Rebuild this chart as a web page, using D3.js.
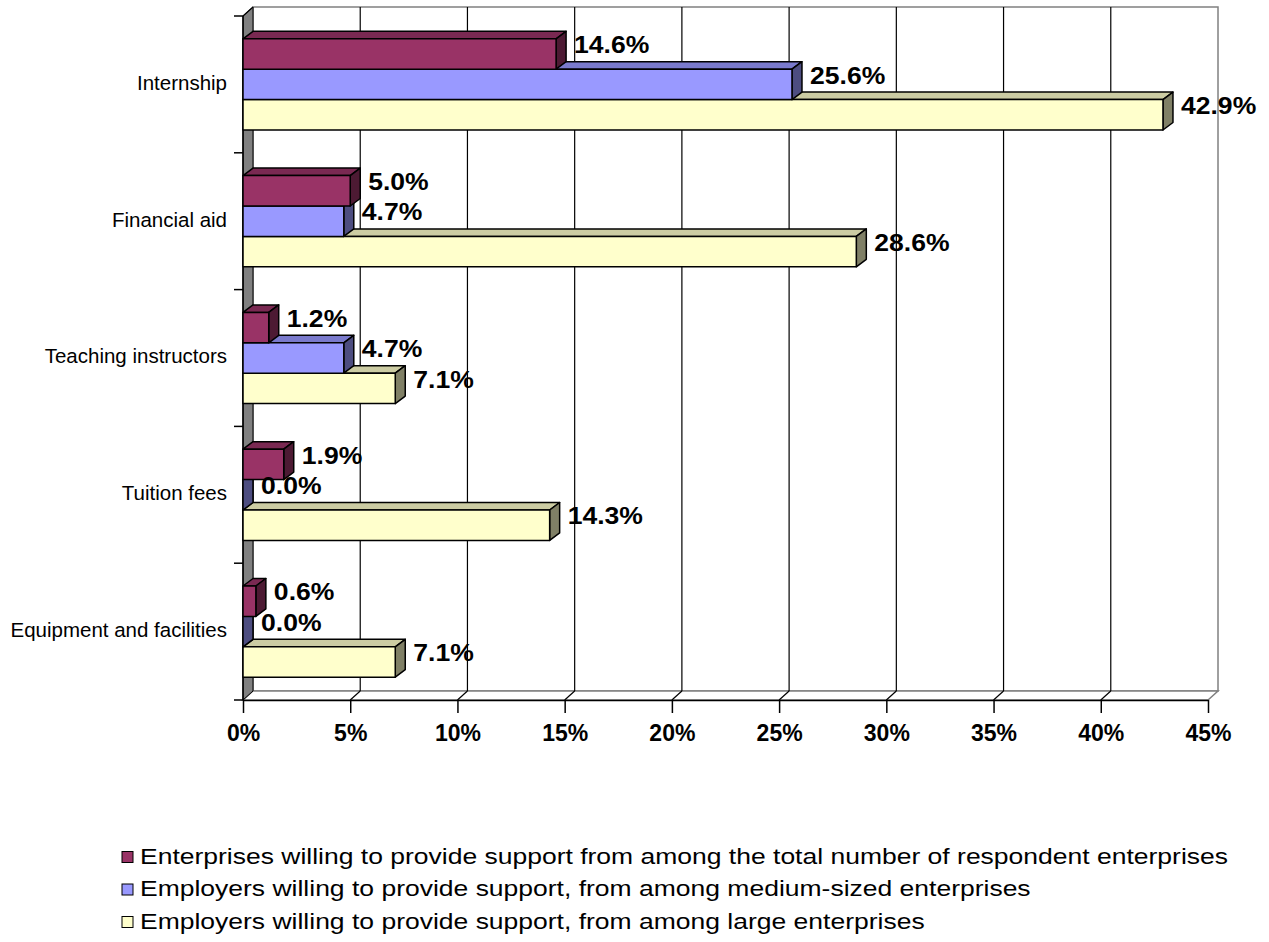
<!DOCTYPE html>
<html>
<head>
<meta charset="utf-8">
<script src="https://cdn.jsdelivr.net/npm/d3@7"></script>
<style>
  html, body { margin: 0; padding: 0; background: #fff; }
  svg { display: block; font-family: Arial, "Liberation Sans", sans-serif; }
</style>
</head>
<body>
<svg id="chart" width="1269" height="942"></svg>
<script>
// Forms of support offered by enterprises, share of respondents (%)
const categories = ["Internship", "Financial aid", "Teaching instructors", "Tuition fees", "Equipment and facilities"];
const seriesNames = [
  "Enterprises willing to provide support from among the total number of respondent enterprises",
  "Employers willing to provide support, from among medium-sized enterprises",
  "Employers willing to provide support, from among large enterprises"
];
const totalEnterprises = [14.6, 5.0, 1.2, 1.9, 0.6];
const mediumEnterprises = [25.6, 4.7, 4.7, 0.0, 0.0];
const largeEnterprises = [42.9, 28.6, 7.1, 14.3, 7.1];
const xTicks = [0, 5, 10, 15, 20, 25, 30, 35, 40, 45];

const seriesValues = [totalEnterprises, mediumEnterprises, largeEnterprises];
const fills = [
  { front: "#993366", top: "#7a2952", side: "#4d1a33" },
  { front: "#9999ff", top: "#7a7acc", side: "#4d4d80" },
  { front: "#ffffcc", top: "#cccca3", side: "#808066" }
];

const svg = d3.select("#chart");

// plot geometry (front plane) and 3D depth offsets
const x0 = 243, x1 = 1208, yTop = 16, yBot = 700;
const wallDx = 10, wallDy = -9;
const barDx = 10, barDy = -7.5;

const x = d3.scaleLinear().domain([0, 45]).range([x0, x1]);
const yCat = d3.scaleBand().domain(categories).range([yTop, yBot]).padding(0);
const bw = yCat.bandwidth();
const ySer = d3.scaleBand().domain(d3.range(3)).range([bw / 6, bw * 5 / 6]).padding(0);

const poly = pts => pts.map(p => p.join(",")).join(" ");

// back wall
svg.append("rect")
  .attr("x", x0 + wallDx).attr("y", yTop + wallDy)
  .attr("width", x1 - x0).attr("height", yBot - yTop)
  .attr("fill", "#ffffff").attr("stroke", "#808080").attr("stroke-width", 1.5);

// floor
svg.append("polygon")
  .attr("points", poly([[x0, yBot], [x0 + wallDx, yBot + wallDy], [x1 + wallDx, yBot + wallDy], [x1, yBot]]))
  .attr("fill", "#ffffff").attr("stroke", "#808080").attr("stroke-width", 1.5);

// left side wall
svg.append("polygon")
  .attr("points", poly([[x0, yTop], [x0 + wallDx, yTop + wallDy], [x0 + wallDx, yBot + wallDy], [x0, yBot]]))
  .attr("fill", "#808080").attr("stroke", "#000").attr("stroke-width", 1);

// vertical gridlines on the back wall plus floor connectors
const gridTicks = xTicks.filter(t => t > 0 && t < 45);
svg.append("g").selectAll("line").data(gridTicks).join("line")
  .attr("x1", d => x(d) + wallDx).attr("x2", d => x(d) + wallDx)
  .attr("y1", yTop + wallDy).attr("y2", yBot + wallDy)
  .attr("stroke", "#000").attr("stroke-width", 1.2);
svg.append("g").selectAll("line").data(gridTicks).join("line")
  .attr("x1", d => x(d)).attr("x2", d => x(d) + wallDx)
  .attr("y1", yBot).attr("y2", yBot + wallDy)
  .attr("stroke", "#000").attr("stroke-width", 1.2);

// x axis
const xAxis = d3.axisBottom(x).tickValues(xTicks).tickFormat(d => d + "%").tickSize(13).tickSizeOuter(0).tickPadding(12);
const gx = svg.append("g").attr("transform", `translate(0,${yBot})`).call(xAxis);
gx.select(".domain").attr("stroke", "#000").attr("stroke-width", 1.5);
gx.selectAll(".tick line").attr("stroke", "#000").attr("stroke-width", 1.5);
gx.selectAll(".tick text").attr("fill", "#000").attr("font-size", 23).attr("font-weight", "bold")
  .attr("font-family", "Arial, 'Liberation Sans', sans-serif");

// y axis: line with ticks at category boundaries
const boundaries = categories.map(c => yCat(c)).concat([yBot]);
svg.append("line").attr("x1", x0).attr("x2", x0).attr("y1", yTop).attr("y2", yBot)
  .attr("stroke", "#000").attr("stroke-width", 1.5);
svg.append("g").selectAll("line").data(boundaries).join("line")
  .attr("x1", x0 - 9).attr("x2", x0).attr("y1", d => d).attr("y2", d => d)
  .attr("stroke", "#000").attr("stroke-width", 1.5);
svg.append("line").attr("x1", x0).attr("y1", yTop).attr("x2", x0 + wallDx).attr("y2", yTop + wallDy)
  .attr("stroke", "#000").attr("stroke-width", 1.2);

// category labels
svg.append("g").selectAll("text").data(categories).join("text")
  .attr("x", 227).attr("y", d => yCat(d) + bw / 2)
  .attr("text-anchor", "end").attr("dominant-baseline", "middle")
  .attr("font-size", 20.5).attr("fill", "#000").text(d => d);

// bars as 3D boxes; lower series first so upper bars overlap their top faces
const barsG = svg.append("g");
categories.forEach((cat, ci) => {
  for (let si = 2; si >= 0; si--) {
    const v = seriesValues[si][ci];
    const yb = yCat(cat) + ySer(si);
    const h = ySer.bandwidth();
    const xe = x(v);
    const g = barsG.append("g").attr("stroke", "#000").attr("stroke-width", 1.5).attr("stroke-linejoin", "round");
    if (v > 0) {
      g.append("polygon").attr("fill", fills[si].top)
        .attr("points", poly([[x0, yb], [x0 + barDx, yb + barDy], [xe + barDx, yb + barDy], [xe, yb]]));
    }
    g.append("polygon").attr("fill", fills[si].side)
      .attr("points", poly([[xe, yb], [xe + barDx, yb + barDy], [xe + barDx, yb + h + barDy], [xe, yb + h]]));
    if (v > 0) {
      g.append("rect").attr("fill", fills[si].front)
        .attr("x", x0).attr("y", yb).attr("width", xe - x0).attr("height", h);
    }
  }
});

// value labels (wide bold face)
const labels = [];
categories.forEach((cat, ci) => seriesValues.forEach((vals, si) => labels.push({ cat, si, v: vals[ci] })));
svg.append("g").selectAll("g").data(labels).join("g")
  .attr("transform", d => `translate(${x(d.v) + barDx + 8},${yCat(d.cat) + ySer(d.si) + ySer.bandwidth() / 2 - 7}) scale(1.13,1)`)
  .append("text")
  .attr("dominant-baseline", "middle")
  .attr("font-size", 23.5).attr("font-weight", "bold").attr("fill", "#000")
  .text(d => d.v.toFixed(1) + "%");

// legend
const legend = svg.append("g").attr("transform", "translate(122,857)");
const items = legend.selectAll("g").data(seriesNames).join("g")
  .attr("transform", (d, i) => `translate(0,${i * 32.5})`);
items.append("rect").attr("x", 0).attr("y", -5.5).attr("width", 11).attr("height", 11)
  .attr("fill", (d, i) => fills[i].front).attr("stroke", "#000").attr("stroke-width", 1);
items.append("g").attr("transform", "translate(18,1) scale(1.25,1)")
  .append("text").attr("dominant-baseline", "middle")
  .attr("font-size", 21.2).attr("fill", "#000").text(d => d);
</script>
</body>
</html>
